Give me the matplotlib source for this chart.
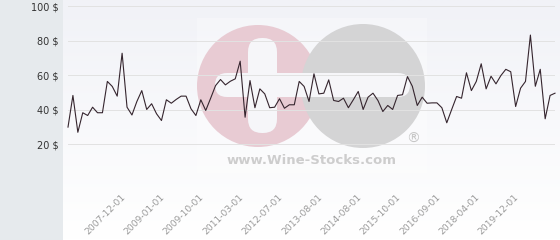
import numpy as np
import matplotlib
matplotlib.use("Agg")
import matplotlib.pyplot as plt
from matplotlib.patches import Circle, FancyBboxPatch, Rectangle

# price series (one value per observation)
prices = [
    30.0, 48.3, 27.0, 38.3, 36.7, 41.5, 38.3, 38.3, 56.4, 53.5,
    47.9, 72.7, 41.5, 37.0, 44.8, 51.1, 40.2, 43.5, 37.7, 33.8,
    45.8, 43.8, 46.0, 47.9, 47.9, 40.6, 36.7, 45.8, 39.6, 46.7,
    54.0, 57.5, 54.4, 56.5, 57.9, 68.1, 35.7, 56.9, 41.2, 52.1,
    49.2, 41.2, 41.5, 46.4, 40.9, 42.9, 42.9, 56.4, 53.5, 44.8,
    60.8, 49.2, 49.6, 57.3, 45.4, 44.8, 46.7, 41.2, 45.8, 50.6,
    40.2, 47.3, 49.6, 45.4, 39.0, 42.5, 40.2, 48.3, 48.7, 59.2,
    53.6, 42.5, 47.3, 43.8, 44.0, 44.0, 41.2, 32.5, 40.2, 47.7,
    46.7, 61.4, 51.1, 56.4, 66.6, 52.1, 59.4, 55.0, 59.8, 63.4,
    62.0, 41.9, 52.5, 56.4, 83.2, 53.6, 63.4, 34.8, 48.3, 49.6,
]
date_labels = ["2007-12-01", "2009-01-01", "2009-10-01", "2011-03-01",
               "2012-07-01", "2013-08-01", "2014-08-01", "2015-10-01",
               "2016-09-01", "2018-04-01", "2019-12-01"]
y_ticks = [0, 20, 40, 60, 80, 100]
y_labels = ["" if v == 0 else f"{v} $" for v in y_ticks]

W, H = 560, 240
fig = plt.figure(figsize=(W / 100, H / 100), dpi=100)
fig.patch.set_facecolor("white")

# background: gray margin on the left, soft gradient elsewhere
bg = fig.add_axes([0, 0, 1, 1], zorder=0)
bg.set_xlim(0, W)
bg.set_ylim(H, 0)
bg.axis("off")
grad = np.linspace(0, 1, 100).reshape(-1, 1)
bg.imshow(grad, cmap=matplotlib.colors.LinearSegmentedColormap.from_list(
    "bg", ["#f1f2f7", "#ffffff"]), extent=(63, W, H, 0), aspect="auto")
bg.add_patch(Rectangle((0, 0), 63, H, color="#e6eaed", lw=0))

# watermark
wm = fig.add_axes([0, 0, 1, 1], zorder=1)
wm.set_xlim(0, W)
wm.set_ylim(H, 0)
wm.axis("off")
wm.patch.set_alpha(0)
wm.add_patch(Rectangle((197, 18), 230, 155, color="white", alpha=0.3, lw=0))
wm.add_patch(Circle((258, 86), 61, color="#e8cbd3", lw=0))
wm.add_patch(Circle((363, 86), 62, color="#d4d4d5", lw=0))
wm.add_patch(FancyBboxPatch((248, 38), 29, 95, boxstyle="round,pad=0,rounding_size=14",
                            fc="#f6f6f9", ec="none"))
wm.add_patch(FancyBboxPatch((215, 73), 195, 24, boxstyle="round,pad=0,rounding_size=12",
                            fc="#f6f6f9", ec="none"))
wm.text(312, 161, "www.Wine-Stocks.com", ha="center", va="center",
        fontsize=9.5, fontweight="bold", color="#cdcdcd")
wm.text(413, 139, "\u00ae", ha="center", va="center", fontsize=10, color="#c6c6c6")

# main chart
ax = fig.add_axes([68 / W, 1 - 179 / H, (555 - 68) / W, (179 - 6) / H], zorder=2)
ax.patch.set_alpha(0)
x = np.arange(len(prices))
ax.plot(x, prices, color="#35252e", lw=0.8, clip_on=False)
ax.set_xlim(0, len(prices) - 1)
ax.set_ylim(0, 100)
ax.set_yticks(y_ticks)
ax.set_yticklabels(y_labels, fontsize=7, color="#333333")
ax.set_xticks(range(12, len(prices), 8)[:len(date_labels)])
ax.set_xticklabels(date_labels, rotation=45, ha="right", va="top",
                   fontsize=6.6, color="#9a9a9a")
ax.tick_params(axis="y", length=0, pad=6.5)
ax.tick_params(axis="x", length=0, pad=10)
ax.grid(axis="y", color="#e2e2e2", lw=0.7)
ax.set_axisbelow(True)
for s in ax.spines.values():
    s.set_visible(False)

fig.savefig("out.png", dpi=100)
